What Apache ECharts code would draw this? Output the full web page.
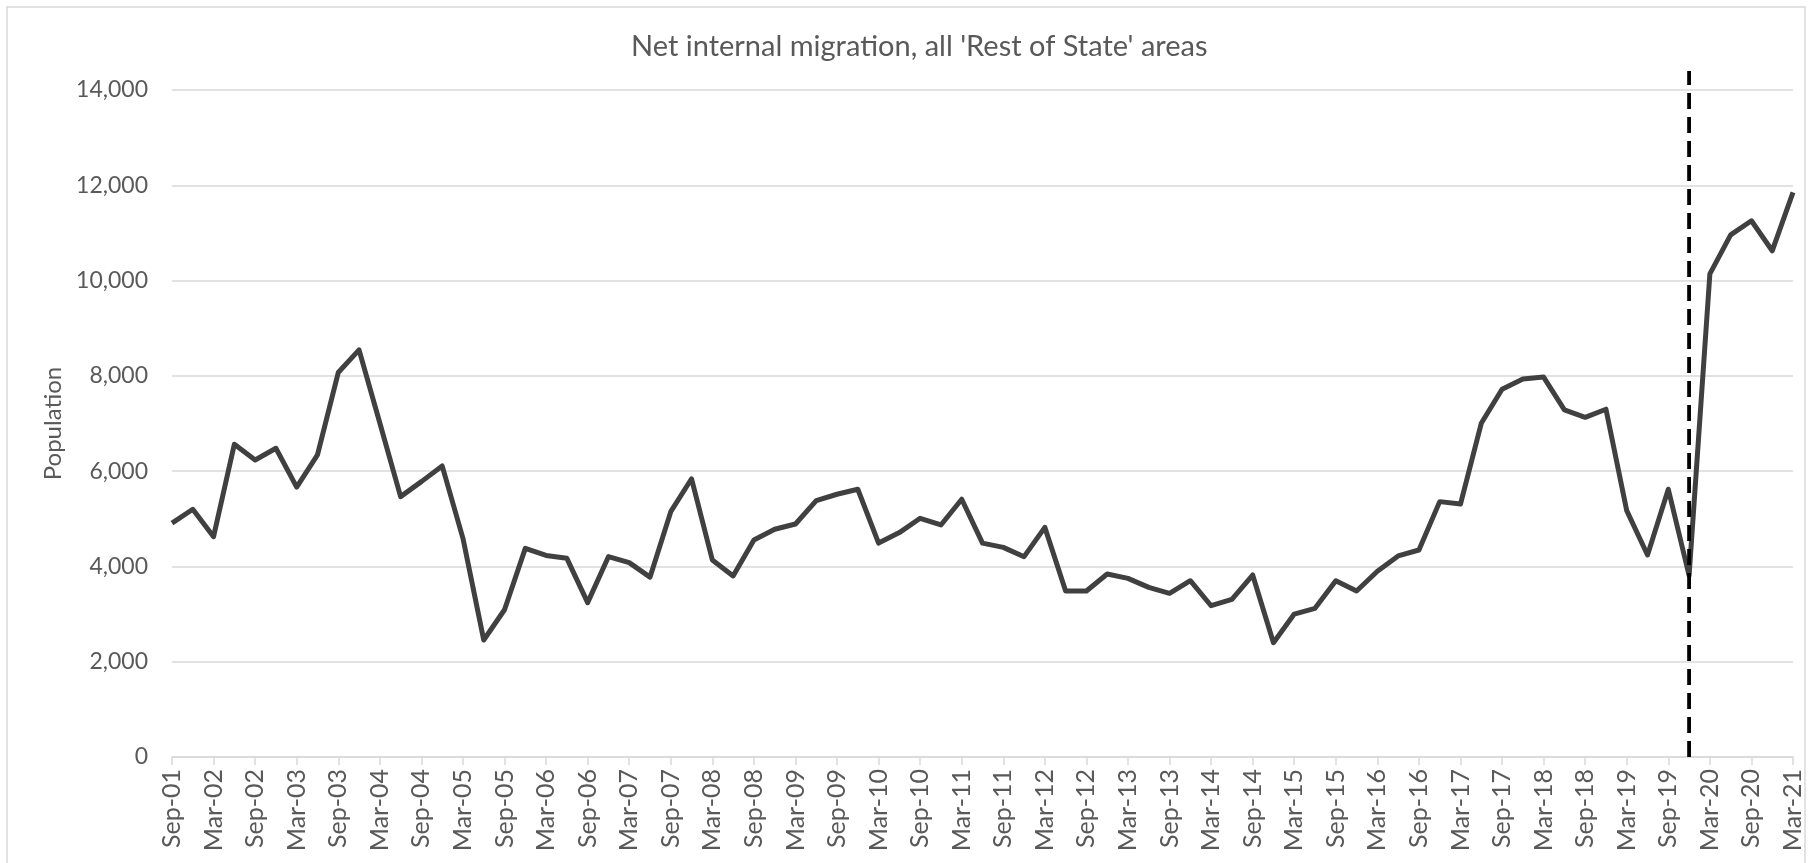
<!DOCTYPE html>
<html>
<head>
<meta charset="utf-8">
<script src="https://cdn.jsdelivr.net/npm/echarts@6/dist/echarts.min.js"></script>
<style>
html,body{margin:0;padding:0;background:#fff;}
#chart{width:1811px;height:863px;}
</style>
</head>
<body>
<div id="chart"></div>
<script>
// Quarterly categories Sep-01 .. Mar-21
const categories = [
 'Sep-01','Dec-01','Mar-02','Jun-02','Sep-02','Dec-02','Mar-03','Jun-03','Sep-03','Dec-03',
 'Mar-04','Jun-04','Sep-04','Dec-04','Mar-05','Jun-05','Sep-05','Dec-05','Mar-06','Jun-06',
 'Sep-06','Dec-06','Mar-07','Jun-07','Sep-07','Dec-07','Mar-08','Jun-08','Sep-08','Dec-08',
 'Mar-09','Jun-09','Sep-09','Dec-09','Mar-10','Jun-10','Sep-10','Dec-10','Mar-11','Jun-11',
 'Sep-11','Dec-11','Mar-12','Jun-12','Sep-12','Dec-12','Mar-13','Jun-13','Sep-13','Dec-13',
 'Mar-14','Jun-14','Sep-14','Dec-14','Mar-15','Jun-15','Sep-15','Dec-15','Mar-16','Jun-16',
 'Sep-16','Dec-16','Mar-17','Jun-17','Sep-17','Dec-17','Mar-18','Jun-18','Sep-18','Dec-18',
 'Mar-19','Jun-19','Sep-19','Dec-19','Mar-20','Jun-20','Sep-20','Dec-20','Mar-21'
];

const netMigration = [
 4910, 5200, 4625, 6565, 6235, 6480, 5665, 6340, 8070, 8545,
 7010, 5465, 5780, 6110, 4590, 2455, 3090, 4380, 4230, 4170,
 3240, 4205, 4080, 3775, 5150, 5840, 4135, 3800, 4555, 4780,
 4890, 5380, 5515, 5620, 4490, 4710, 5010, 4870, 5410, 4490,
 4400, 4205, 4820, 3485, 3485, 3840, 3750, 3560, 3435, 3700,
 3175, 3310, 3820, 2400, 3000, 3120, 3700, 3485, 3900, 4220,
 4345, 5360, 5310, 7005, 7720, 7935, 7975, 7285, 7130, 7300,
 5170, 4240, 5620, 3810, 10140, 10960, 11255, 10625, 11850
];

// Vertical dashed marker at Dec-19
const markerCategory = 'Dec-19';
const markerRange = [0, 14400];

const titleText = "Net internal migration, all 'Rest of State' areas";
const yAxisName = 'Population';

const chart = echarts.init(document.getElementById('chart'));
const FONT = 'Lato, "Open Sans", sans-serif';
const GREY = '#595959';

chart.setOption({
  animation: false,
  backgroundColor: '#ffffff',
  graphic: [{
    type: 'rect',
    shape: { x: 7, y: 7, width: 1798, height: 900 },
    style: { fill: 'none', stroke: '#d9d9d9', lineWidth: 1.5 },
    silent: true
  }],
  title: {
    text: titleText,
    left: 626,
    top: 27,
    textStyle: { fontFamily: FONT, fontSize: 29, fontWeight: 'normal', color: GREY }
  },
  grid: { left: 172, right: 18, top: 90, bottom: 106, containLabel: false },
  xAxis: {
    type: 'category',
    data: categories,
    boundaryGap: false,
    axisLine: { lineStyle: { color: '#d9d9d9', width: 1.5 } },
    axisTick: { show: true, interval: 1, length: 8, lineStyle: { color: '#d9d9d9', width: 1.5 } },
    axisLabel: {
      interval: 1, rotate: 90, margin: 12,
      fontFamily: FONT, fontSize: 25, color: GREY
    },
    splitLine: { show: false }
  },
  yAxis: {
    type: 'value',
    min: 0, max: 14000, interval: 2000,
    name: yAxisName,
    nameLocation: 'middle',
    nameGap: 106,
    nameTextStyle: { fontFamily: FONT, fontSize: 24, color: GREY },
    axisLine: { show: false },
    axisTick: { show: false },
    axisLabel: {
      margin: 24, fontFamily: FONT, fontSize: 23, color: GREY,
      formatter: v => v.toLocaleString('en-US')
    },
    splitLine: { lineStyle: { color: '#d9d9d9', width: 1.5 } }
  },
  series: [
    {
      type: 'line',
      data: netMigration,
      symbol: 'none',
      lineStyle: { color: '#404040', width: 5, join: 'round' },
      z: 3
    },
    {
      type: 'line',
      data: [[markerCategory, markerRange[0]], [markerCategory, markerRange[1]]],
      symbol: 'none',
      clip: false,
      lineStyle: { color: '#000000', width: 3.8, type: [16, 8] },
      z: 4
    }
  ]
});
</script>
</body>
</html>
